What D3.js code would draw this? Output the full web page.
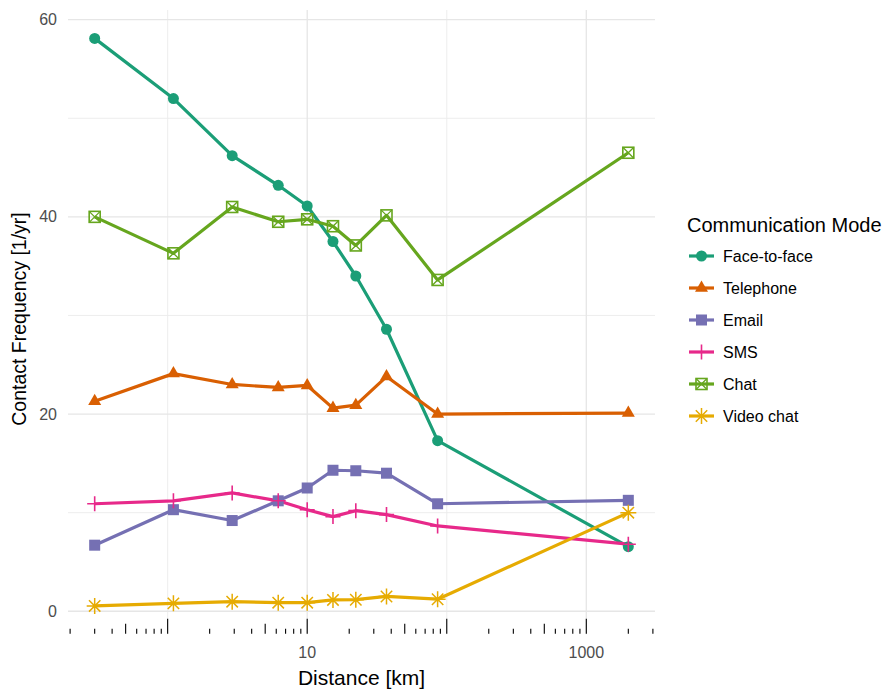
<!DOCTYPE html>
<html>
<head>
<meta charset="utf-8">
<script src="https://cdn.jsdelivr.net/npm/d3@7"></script>
<style>
  html, body { margin: 0; padding: 0; background: #fff; }
  svg { display: block; font-family: "Liberation Sans", Arial, sans-serif; }
</style>
</head>
<body>
<svg id="chart" width="889" height="691"></svg>
<script>
// Distance bins (km) and mean contact frequency per communication mode
const distance   = [0.3, 1.1, 2.9, 6.2, 10, 15.3, 22.3, 37, 86, 2000];
const faceToFace = [58.1, 52.0, 46.2, 43.2, 41.1, 37.5, 34.0, 28.6, 17.3, 6.55];
const telephone  = [21.3, 24.1, 23.0, 22.7, 22.9, 20.6, 20.9, 23.8, 20.0, 20.1];
const email      = [6.7, 10.3, 9.2, 11.2, 12.5, 14.3, 14.25, 14.0, 10.9, 11.25];
const sms        = [10.9, 11.2, 12.0, 11.2, 10.3, 9.6, 10.2, 9.8, 8.65, 6.8];
const chat       = [40.0, 36.3, 41.0, 39.5, 39.75, 39.05, 37.1, 40.15, 33.6, 46.5];
const videoChat  = [0.54, 0.8, 0.97, 0.87, 0.87, 1.15, 1.17, 1.5, 1.22, 10.0];

const modes  = ["Face-to-face", "Telephone", "Email", "SMS", "Chat", "Video chat"];
const values = [faceToFace, telephone, email, sms, chat, videoChat];
const colors = ["#1B9E77", "#D95F02", "#7570B3", "#E7298A", "#66A61E", "#E6AB02"];
const shapes = ["circle", "triangle", "square", "plus", "squareCross", "asterisk"];

const yMajor = [0, 20, 40, 60];
const yMinor = [10, 30, 50];
const xMajor = [10, 1000];
const xMinor = [1, 100];

const panel = { left: 68, right: 655, top: 10, bottom: 634.3 };

// ggplot-style 5% expansion of the data range (log space for x)
const lx = d3.extent(distance).map(Math.log10);
const ly = d3.extent(values.flat());
const ex = (lx[1] - lx[0]) * 0.05, ey = (ly[1] - ly[0]) * 0.05;

const x = d3.scaleLog()
  .domain([Math.pow(10, lx[0] - ex), Math.pow(10, lx[1] + ex)])
  .range([panel.left, panel.right]);
const y = d3.scaleLinear()
  .domain([ly[0] - ey, ly[1] + ey])
  .range([panel.bottom, panel.top]);

const svg = d3.select("#chart");

// grid
const grid = svg.append("g");
grid.selectAll(".ymin").data(yMinor).join("line")
  .attr("x1", panel.left).attr("x2", panel.right)
  .attr("y1", d => y(d)).attr("y2", d => y(d))
  .attr("stroke", "#ebebeb").attr("stroke-width", 0.9);
grid.selectAll(".xmin").data(xMinor).join("line")
  .attr("y1", panel.top).attr("y2", panel.bottom)
  .attr("x1", d => x(d)).attr("x2", d => x(d))
  .attr("stroke", "#ebebeb").attr("stroke-width", 0.9);
grid.selectAll(".ymaj").data(yMajor).join("line")
  .attr("x1", panel.left).attr("x2", panel.right)
  .attr("y1", d => y(d)).attr("y2", d => y(d))
  .attr("stroke", "#e6e6e6").attr("stroke-width", 1.3);
grid.selectAll(".xmaj").data(xMajor).join("line")
  .attr("y1", panel.top).attr("y2", panel.bottom)
  .attr("x1", d => x(d)).attr("x2", d => x(d))
  .attr("stroke", "#e6e6e6").attr("stroke-width", 1.3);

// log ticks along the bottom of the panel
const logTicks = [];
for (let e = -2; e <= 4; e++) {
  for (let k = 1; k <= 9; k++) {
    const v = k * Math.pow(10, e);
    const px = x(v);
    if (px >= panel.left - 0.5 && px <= panel.right + 0.5) logTicks.push({ v, k });
  }
}
svg.append("g").selectAll("line").data(logTicks).join("line")
  .attr("x1", d => x(d.v)).attr("x2", d => x(d.v))
  .attr("y1", panel.bottom - 0.5)
  .attr("y2", d => panel.bottom - 0.5 - (d.k === 1 ? 15 : d.k === 5 ? 10 : 5))
  .attr("stroke", "#000").attr("stroke-width", 1.1);

// axis labels
const axisColor = "#4d4d4d";
svg.append("g").selectAll("text").data(yMajor).join("text")
  .attr("x", 57).attr("y", d => y(d))
  .attr("dy", "0.35em").attr("text-anchor", "end")
  .attr("fill", axisColor).attr("font-size", 16)
  .text(d => d);
svg.append("g").selectAll("text").data(xMajor).join("text")
  .attr("x", d => x(d)).attr("y", 652)
  .attr("dy", "0.35em").attr("text-anchor", "middle")
  .attr("fill", axisColor).attr("font-size", 16)
  .text(d => d3.format("d")(d));

svg.append("text")
  .attr("x", (panel.left + panel.right) / 2).attr("y", 678)
  .attr("dy", "0.35em").attr("text-anchor", "middle")
  .attr("font-size", 21).attr("fill", "#000")
  .text("Distance [km]");
svg.append("text")
  .attr("transform", `translate(19,319) rotate(-90)`)
  .attr("dy", "0.35em").attr("text-anchor", "middle")
  .attr("font-size", 19.5).attr("fill", "#000")
  .text("Contact Frequency [1/yr]");

// marker drawing
function drawMarker(g, shape, color) {
  switch (shape) {
    case "circle":
      g.append("circle").attr("r", 5.5).attr("fill", color);
      break;
    case "triangle": {
      const s = 13, h = s * Math.sqrt(3) / 2;
      g.append("path")
        .attr("d", `M0,${-h * 2 / 3}L${s / 2},${h / 3}L${-s / 2},${h / 3}Z`)
        .attr("fill", color);
      break;
    }
    case "square":
      g.append("rect").attr("x", -5.5).attr("y", -5.5)
        .attr("width", 11).attr("height", 11).attr("fill", color);
      break;
    case "plus":
      g.append("path").attr("d", "M-7.5,0H7.5M0,-7.5V7.5")
        .attr("stroke", color).attr("stroke-width", 1.6).attr("fill", "none");
      break;
    case "squareCross":
      g.append("rect").attr("x", -5.5).attr("y", -5.5)
        .attr("width", 11).attr("height", 11)
        .attr("fill", "none").attr("stroke", color).attr("stroke-width", 1.6);
      g.append("path").attr("d", "M-5.5,-5.5L5.5,5.5M5.5,-5.5L-5.5,5.5")
        .attr("stroke", color).attr("stroke-width", 1.3).attr("fill", "none");
      break;
    case "asterisk":
      g.append("path")
        .attr("d", "M-8,0H8M0,-8V8M-5.7,-5.7L5.7,5.7M5.7,-5.7L-5.7,5.7")
        .attr("stroke", color).attr("stroke-width", 1.5).attr("fill", "none");
      break;
  }
}

const line = d3.line().x(d => x(d[0])).y(d => y(d[1]));
const series = modes.map((m, i) => ({
  mode: m, color: colors[i], shape: shapes[i],
  points: distance.map((dv, j) => [dv, values[i][j]])
}));

// lines
svg.append("g").selectAll("path").data(series).join("path")
  .attr("d", s => line(s.points))
  .attr("fill", "none").attr("stroke", s => s.color)
  .attr("stroke-width", 3.2).attr("stroke-linejoin", "round");

// points
const pts = svg.append("g");
series.forEach(s => {
  s.points.forEach(p => {
    const g = pts.append("g").attr("transform", `translate(${x(p[0])},${y(p[1])})`);
    drawMarker(g, s.shape, s.color);
  });
});

// legend
const legend = svg.append("g");
legend.append("text").attr("x", 687).attr("y", 225).attr("dy", "0.35em")
  .attr("font-size", 20).attr("fill", "#000").text("Communication Mode");
series.forEach((s, i) => {
  const cy = 256 + i * 32;
  const g = legend.append("g");
  g.append("line").attr("x1", 689).attr("x2", 714).attr("y1", cy).attr("y2", cy)
    .attr("stroke", s.color).attr("stroke-width", 3.2);
  drawMarker(g.append("g").attr("transform", `translate(701.5,${cy})`), s.shape, s.color);
  g.append("text").attr("x", 723).attr("y", cy).attr("dy", "0.35em")
    .attr("font-size", 16).attr("fill", "#000").text(s.mode);
});
</script>
</body>
</html>
